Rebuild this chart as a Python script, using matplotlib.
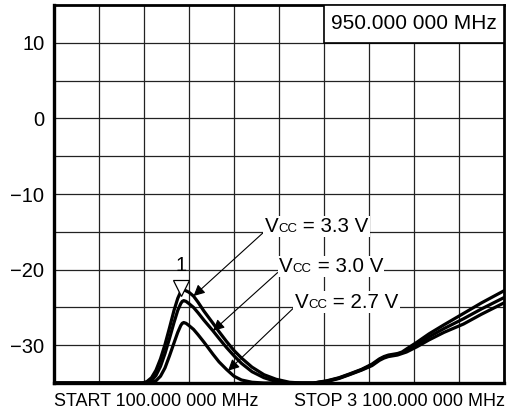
import numpy as np
import matplotlib
matplotlib.use('Agg')
import matplotlib.pyplot as plt
from matplotlib.offsetbox import TextArea, HPacker, AnnotationBbox
from matplotlib.patches import Rectangle
import matplotlib.transforms as mtransforms

plt.rcParams['font.family'] = ['Liberation Sans', 'DejaVu Sans']

# frequency (MHz) and gain (dB)
freq = [100, 400, 650, 690, 720, 750, 780, 810, 840, 870,
        900, 925, 945, 955, 965, 980, 1000, 1030, 1060, 1100,
        1160, 1200, 1250, 1300, 1350, 1420, 1500, 1580, 1670, 1750,
        1830, 1920, 2000, 2070, 2150, 2220, 2270, 2300, 2330, 2360,
        2390, 2420, 2450, 2520, 2600, 2700, 2830, 2950, 3100]
vcc_33 = [-35, -35, -35, -35, -34.8, -34.3, -33.3, -31.8, -29.9, -27.7,
          -25.4, -23.8, -22.9, -22.7, -22.7, -22.8, -23.0, -23.5, -24.3, -25.5,
          -27.1, -28.2, -29.5, -30.7, -31.7, -32.9, -33.9, -34.5, -34.9, -35.0,
          -35.0, -34.7, -34.3, -33.8, -33.2, -32.5, -31.8, -31.5, -31.3, -31.2,
          -31.1, -30.9, -30.5, -29.6, -28.5, -27.3, -25.8, -24.4, -22.8]
vcc_30 = [-35, -35, -35, -35, -34.95, -34.7, -34.0, -32.8, -31.1, -29.1,
          -27.0, -25.4, -24.5, -24.2, -24.1, -24.2, -24.5, -25.0, -25.7, -26.7,
          -28.1, -29.1, -30.3, -31.4, -32.4, -33.5, -34.3, -34.8, -35.0, -35.0,
          -35.0, -34.75, -34.35, -33.85, -33.25, -32.6, -31.9, -31.6, -31.4, -31.3,
          -31.2, -31.0, -30.7, -29.9, -28.9, -27.8, -26.5, -25.2, -23.7]
vcc_27 = [-35, -35, -35, -35, -35, -34.95, -34.7, -34.1, -33.0, -31.4,
          -29.7, -28.3, -27.4, -27.1, -27.0, -27.1, -27.4, -27.9, -28.6, -29.6,
          -31.2, -32.2, -33.2, -34.1, -34.6, -34.9, -35.0, -35.0, -35.0, -35.0,
          -35.0, -34.8, -34.4, -33.9, -33.3, -32.7, -32.0, -31.7, -31.5, -31.4,
          -31.3, -31.1, -30.9, -30.2, -29.3, -28.3, -27.2, -25.9, -24.4]

labels = ['3.3', '3.0', '2.7']
curves = [vcc_33, vcc_30, vcc_27]
# where each label arrow hits its trace, and where the label sits
arrow_freq = [1030, 1160, 1260]
label_pos = [(1505, -14.3), (1600, -19.6), (1705, -24.3)]

marker_freq = 950
marker_text = '950.000 000 MHz'

fig = plt.figure(figsize=(5.08, 4.13), dpi=100)
ax = fig.add_axes([0.1063, 0.0726, 0.8858, 0.9153])

for c in curves:
    ax.plot(freq, c, color='black', lw=2.3, solid_capstyle='round', zorder=3)

ax.set_xlim(100, 3100)
ax.set_ylim(-35, 15)
ax.set_xticks(np.arange(100, 3101, 300))
ax.set_yticks([-30, -20, -10, 0, 10])
ax.set_yticks([-25, -15, -5, 5], minor=True)
ax.set_xticklabels([])
ax.set_yticklabels(['\u221230', '\u221220', '\u221210', '0', '10'], fontsize=14.5)
ax.tick_params(which='both', length=0, pad=7)
ax.grid(True, which='both', color='#222222', lw=0.9)
for s in ax.spines.values():
    s.set_linewidth(2)
ax.spines['left'].set_linewidth(2.4)
ax.spines['bottom'].set_linewidth(2.4)

# marker readout box
ax.add_patch(Rectangle((0.6, 0.9), 0.4, 0.1, transform=ax.transAxes,
                       facecolor='white', edgecolor='black', lw=1.2, zorder=4))
ax.text(0.8, 0.95, marker_text, transform=ax.transAxes, ha='center', va='center',
        fontsize=15, zorder=5)

# marker 1
peak = np.interp(marker_freq, freq, vcc_33)
tri = mtransforms.offset_copy(ax.transData, fig=fig, y=3, units='dots')
ax.plot(marker_freq, peak, marker='v', ms=11, mfc='white', mec='black', mew=0.9,
        transform=tri, zorder=6)
txt = mtransforms.offset_copy(ax.transData, fig=fig, y=16, units='dots')
ax.text(marker_freq, peak, '1', transform=txt, ha='center', va='bottom',
        fontsize=14.5, zorder=6)

# Vcc labels with arrows
for lab, c, af, pos in zip(labels, curves, arrow_freq, label_pos):
    tip = (af, np.interp(af, freq, c))
    box = HPacker(children=[TextArea('V', textprops=dict(size=14.8)),
                            TextArea('CC', textprops=dict(size=9.5)),
                            TextArea(' = %s V' % lab, textprops=dict(size=14.8))],
                  align='baseline', pad=0, sep=0)
    ab = AnnotationBbox(box, tip, xybox=pos, xycoords='data', boxcoords='data',
                        box_alignment=(0, 0.5), frameon=True, pad=0.1,
                        bboxprops=dict(facecolor='white', edgecolor='none'),
                        arrowprops=dict(arrowstyle='-|>', color='black', lw=0.8,
                                        shrinkA=0, shrinkB=0, mutation_scale=12,
                                        relpos=(0, 0.25)),
                        zorder=5)
    ax.add_artist(ab)

fig.text(54 / 508, 1 - 401 / 413, 'START 100.000 000 MHz', ha='left', va='center', fontsize=13)
fig.text(505 / 508, 1 - 401 / 413, 'STOP 3 100.000 000 MHz', ha='right', va='center', fontsize=13)

fig.savefig('out.png', dpi=100)
